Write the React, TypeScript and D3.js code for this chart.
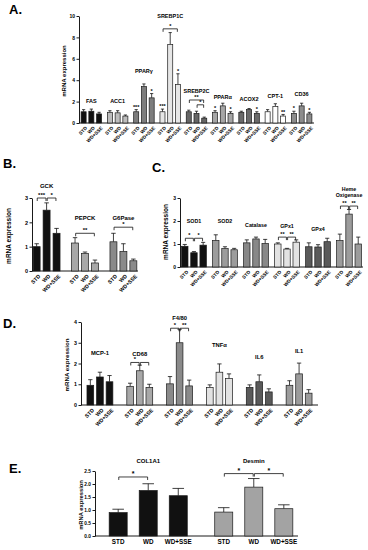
import React, { useEffect, useRef } from 'react';
import * as d3 from 'd3';

const W = 368, H = 550;
const FONT = '"Liberation Sans", Arial, sans-serif';
const DIETS = ['STD', 'WD', 'WD+SSE'];

// A. lipid metabolism
const genesA = ['FAS', 'ACC1', 'PPARγ', 'SREBP1C', 'SREBP2C', 'PPARα', 'ACOX2', 'CPT-1', 'CD36'];
const meanA = [[1.05, 1.1, 0.85], [1.0, 0.95, 0.65], [1.05, 3.4, 2.35], [1.05, 7.35, 3.6], [1.05, 0.9, 0.45], [1.0, 1.6, 0.9], [1.0, 1.25, 0.9], [1.05, 1.55, 0.65], [0.9, 1.6, 0.85]];
const errA = [[0.2, 0.2, 0.15], [0.15, 0.2, 0.1], [0.2, 0.25, 0.4], [0.25, 1.1, 1.0], [0.15, 0.2, 0.1], [0.15, 0.25, 0.15], [0.1, 0.1, 0.15], [0.2, 0.25, 0.15], [0.2, 0.25, 0.15]];
const starsA = [['', '', ''], ['', '', ''], ['***', '', '*'], ['***', '', '*'], ['', '', ''], ['*', '', '*'], ['', '', '*'], ['', '', '**'], ['*', '', '*']];
const labelAtA = [2.05, 2.05, 4.85, 10.0, 3.0, 2.45, 2.25, 2.5, 2.7];
const bracketsA = [
  { g: 3, a: 0, b: 2, t: '*', v: 8.8 },
  { g: 4, a: 0, b: 2, t: '**', v: 2.15 },
  { g: 4, a: 1, b: 2, t: '*', v: 1.7 },
];

// B. glucose metabolism
const genesB = ['GCK', 'PEPCK', 'G6Pase'];
const meanB = [[1.0, 2.5, 1.55], [1.15, 0.72, 0.33], [1.2, 0.8, 0.42]];
const errB = [[0.12, 0.3, 0.2], [0.22, 0.06, 0.12], [0.35, 0.32, 0.07]];
const starsB = [['', '', ''], ['', '', ''], ['', '', '']];
const labelAtB = [3.5, 2.2, 2.2];
const bracketsB = [
  { g: 0, a: 0, b: 1, t: '***', v: 3.0 },
  { g: 0, a: 1, b: 2, t: '*', v: 3.0 },
  { g: 1, a: 0, b: 2, t: '**', v: 1.55 },
  { g: 2, a: 0, b: 2, t: '*', v: 1.8 },
];

// C. antioxidant enzymes
const genesC = ['SOD1', 'SOD2', 'Catalase', 'GPx1', 'GPx4', 'Heme\nOxigenase'];
const meanC = [[0.9, 0.62, 0.95], [1.15, 0.8, 0.75], [1.05, 1.22, 1.02], [1.0, 0.78, 1.08], [0.88, 0.87, 1.1], [1.15, 2.3, 1.0]];
const errC = [[0.08, 0.05, 0.12], [0.25, 0.08, 0.06], [0.13, 0.08, 0.18], [0.05, 0.03, 0.1], [0.17, 0.1, 0.15], [0.28, 0.2, 0.3]];
const starsC = [['', '', ''], ['', '', ''], ['', '', ''], ['', '', ''], ['', '', ''], ['', '', '']];
const labelAtC = [2.0, 2.0, 1.83, 1.78, 1.65, 3.26];
const bracketsC = [
  { g: 0, a: 0, b: 1, t: '*', v: 1.25 },
  { g: 0, a: 1, b: 2, t: '*', v: 1.25 },
  { g: 3, a: 0, b: 1, t: '**', v: 1.3 },
  { g: 3, a: 1, b: 2, t: '**', v: 1.3 },
  { g: 5, a: 0, b: 1, t: '**', v: 2.65 },
  { g: 5, a: 1, b: 2, t: '**', v: 2.65 },
];

// D. inflammation
const genesD = ['MCP-1', 'CD68', 'F4/80', 'TNFα', 'IL6', 'IL1'];
const meanD = [[0.95, 1.35, 1.12], [0.9, 1.65, 0.85], [1.02, 3.0, 0.92], [0.85, 1.58, 1.27], [0.85, 1.12, 0.63], [0.95, 1.5, 0.57]];
const errD = [[0.27, 0.23, 0.3], [0.15, 0.27, 0.15], [0.35, 0.65, 0.28], [0.12, 0.4, 0.23], [0.12, 0.33, 0.15], [0.22, 0.52, 0.17]];
const starsD = [['', '', ''], ['', '', ''], ['', '', ''], ['', '', ''], ['', '', ''], ['', '', '']];
const labelAtD = [2.5, 2.45, 4.2, 2.9, 2.3, 2.6];
const bracketsD = [
  { g: 1, a: 0, b: 1, t: '*', v: 2.05 },
  { g: 1, a: 1, b: 2, t: '', v: 2.05 },
  { g: 2, a: 0, b: 1, t: '*', v: 3.7 },
  { g: 2, a: 1, b: 2, t: '**', v: 3.7 },
];

// E. fibrosis
const genesE = ['COL1A1', 'Desmin'];
const meanE = [[0.9, 1.75, 1.55], [0.92, 1.88, 1.05]];
const errE = [[0.13, 0.26, 0.28], [0.17, 0.33, 0.15]];
const starsE = [['', '', ''], ['', '', '']];
const labelAtE = [2.88, 2.88];
const bracketsE = [
  { g: 0, a: 0, b: 1, t: '*', v: 2.27 },
  { g: 1, a: 0, b: 1, t: '*', v: 2.4 },
  { g: 1, a: 1, b: 2, t: '*', v: 2.4 },
];

const fillA = ['#111', '#bdbdbd', '#7d7d7d', '#e6e6e6', '#656565', '#a6a6a6', '#6a6a6a', '#ffffff', '#8c8c8c'];
const fillB = ['#111', '#a8a8a8', '#8a8a8a'];
const fillC = ['#111', '#9c9c9c', '#888', '#e2e2e2', '#5a5a5a', '#9c9c9c'];
const fillD = ['#111', '#a8a8a8', '#8a8a8a', '#e2e2e2', '#5a5a5a', '#9c9c9c'];
const fillE = ['#111', '#a3a3a3'];

function drawPanel(svg: any, p: any) {
  const y = d3.scaleLinear().domain(p.yDomain).range(p.yRange);
  const gx = d3.scaleBand<number>().domain(d3.range(p.genes.length)).range(p.band)
    .paddingInner(p.padIn).paddingOuter(p.padOut);
  const bx = d3.scaleBand<number>().domain([0, 1, 2]).range([0, gx.bandwidth()]).paddingInner(p.barPad);
  const bw = bx.bandwidth();
  const cx = (i: number, j: number) => (gx(i) as number) + (bx(j) as number) + bw / 2;
  const y0 = y(0);

  const g = svg.append('g').attr('font-family', FONT).attr('font-weight', 'bold').attr('fill', '#000');

  // panel letter
  g.append('text').attr('x', p.letter[1]).attr('y', p.letter[2])
    .attr('font-size', 13).text(p.letter[0]);

  // y axis
  const ax = g.append('g').attr('transform', `translate(${p.axisX[0]},0)`)
    .call(d3.axisLeft(y).tickValues(p.yTicks).tickSize(2.5).tickSizeOuter(0).tickPadding(1.5).tickFormat(p.yFmt));
  ax.attr('font-family', FONT).attr('font-size', p.tickFont).attr('font-weight', 'bold');
  ax.selectAll('path, line').attr('stroke', '#000').attr('stroke-width', 0.9);
  ax.selectAll('text').attr('fill', '#000');

  g.append('text')
    .attr('transform', `translate(${p.ylab[0]},${p.ylab[1]}) rotate(-90)`)
    .attr('text-anchor', 'middle').attr('font-size', p.ylabFont).text('mRNA expression');

  // x baseline
  g.append('line').attr('x1', p.axisX[0]).attr('x2', p.axisX[1]).attr('y1', y0).attr('y2', y0)
    .attr('stroke', '#000').attr('stroke-width', 0.9);

  p.genes.forEach((gene: string, i: number) => {
    p.means[i].forEach((m: number, j: number) => {
      const e = p.errs[i][j];
      const c = cx(i, j);
      g.append('line').attr('x1', c).attr('x2', c).attr('y1', y(m)).attr('y2', y(m + e))
        .attr('stroke', '#111').attr('stroke-width', 0.8);
      g.append('line').attr('x1', c - bw * 0.32).attr('x2', c + bw * 0.32).attr('y1', y(m + e)).attr('y2', y(m + e))
        .attr('stroke', '#111').attr('stroke-width', 0.8);
      g.append('rect').attr('x', c - bw / 2).attr('y', y(m)).attr('width', bw).attr('height', y0 - y(m))
        .attr('fill', p.fills[i]).attr('stroke', '#1a1a1a').attr('stroke-width', 0.7);
      if (p.stars[i][j]) {
        g.append('text').attr('x', c).attr('y', y(m + e) - 0.8).attr('text-anchor', 'middle')
          .attr('font-size', p.starFont).text(p.stars[i][j]);
      }
      // diet labels
      if (p.rotate) {
        g.append('text').attr('transform', `translate(${c + 1.5},${y0 + 3}) rotate(-45)`)
          .attr('text-anchor', 'end').attr('dy', '0.7em').attr('font-size', p.xFont).text(DIETS[j]);
      } else {
        g.append('text').attr('x', c).attr('y', y0 + 3).attr('dy', '0.8em').attr('text-anchor', 'middle')
          .attr('font-size', p.xFont).text(DIETS[j]);
      }
    });
    const lines = gene.split('\n');
    const t = g.append('text').attr('x', (gx(i) as number) + gx.bandwidth() / 2).attr('y', y(p.labelAt[i]))
      .attr('text-anchor', 'middle').attr('font-size', p.geneFont);
    lines.forEach((ln, k) => {
      t.append('tspan').attr('x', (gx(i) as number) + gx.bandwidth() / 2)
        .attr('dy', k === 0 ? `${0.35 - (lines.length - 1) * 0.6}em` : '1.2em').text(ln);
    });
  });

  p.brackets.forEach((b: any) => {
    const x1 = cx(b.g, b.a) + 0.6, x2 = cx(b.g, b.b) - 0.6, yy = y(b.v);
    g.append('path').attr('d', `M${x1},${yy + 3}V${yy}H${x2}V${yy + 3}`)
      .attr('fill', 'none').attr('stroke', '#111').attr('stroke-width', 0.8);
    if (b.t) {
      g.append('text').attr('x', (x1 + x2) / 2).attr('y', yy - 1).attr('text-anchor', 'middle')
        .attr('font-size', p.starFont).text(b.t);
    }
  });
}

export default function App() {
  const ref = useRef<SVGSVGElement>(null);

  useEffect(() => {
    const svg = d3.select(ref.current);
    svg.selectAll('*').remove();
    const num = (d: any) => `${d}`;

    drawPanel(svg, {
      letter: ['A.', 9, 14], genes: genesA, means: meanA, errs: errA, stars: starsA, labelAt: labelAtA,
      brackets: bracketsA, fills: fillA, yDomain: [0, 10], yRange: [123, 16], yTicks: [0, 2, 4, 6, 8, 10], yFmt: num,
      axisX: [79, 314], band: [79, 314], padIn: 0.22, padOut: 0.08, barPad: 0.35,
      ylab: [66, 71], ylabFont: 6, tickFont: 5, geneFont: 5.5, starFont: 5.5, xFont: 4.8, rotate: true,
    });
    drawPanel(svg, {
      letter: ['B.', 3, 168], genes: genesB, means: meanB, errs: errB, stars: starsB, labelAt: labelAtB,
      brackets: bracketsB, fills: fillB, yDomain: [0, 3], yRange: [271, 198], yTicks: [0, 1, 2, 3], yFmt: num,
      axisX: [32, 138], band: [32, 138], padIn: 0.3, padOut: 0.03, barPad: 0.3,
      ylab: [11, 236], ylabFont: 6.5, tickFont: 5.5, geneFont: 6, starFont: 6, xFont: 5.3, rotate: true,
    });
    drawPanel(svg, {
      letter: ['C.', 152, 172], genes: genesC, means: meanC, errs: errC, stars: starsC, labelAt: labelAtC,
      brackets: bracketsC, fills: fillC, yDomain: [0, 3], yRange: [267, 198], yTicks: [0, 1, 2, 3], yFmt: num,
      axisX: [180, 363], band: [180, 363], padIn: 0.2, padOut: 0.05, barPad: 0.3,
      ylab: [168, 232], ylabFont: 6.5, tickFont: 5, geneFont: 5.3, starFont: 5.5, xFont: 4.8, rotate: true,
    });
    drawPanel(svg, {
      letter: ['D.', 3, 328], genes: genesD, means: meanD, errs: errD, stars: starsD, labelAt: labelAtD,
      brackets: bracketsD, fills: fillD, yDomain: [0, 4], yRange: [405, 322], yTicks: [0, 1, 2, 3, 4], yFmt: num,
      axisX: [81, 318], band: [81, 318], padIn: 0.35, padOut: 0.15, barPad: 0.3,
      ylab: [69, 365], ylabFont: 6.2, tickFont: 5.3, geneFont: 5.8, starFont: 5.8, xFont: 5.3, rotate: true,
    });
    drawPanel(svg, {
      letter: ['E.', 9, 473], genes: genesE, means: meanE, errs: errE, stars: starsE, labelAt: labelAtE,
      brackets: bracketsE, fills: fillE, yDomain: [0, 2.5], yRange: [536, 471], yTicks: [0, 0.5, 1, 1.5, 2, 2.5],
      yFmt: d3.format('.1f'),
      axisX: [95, 298], band: [106, 296], padIn: 0.26, padOut: 0.03, barPad: 0.4,
      ylab: [83, 505], ylabFont: 5.8, tickFont: 4.8, geneFont: 6, starFont: 7, xFont: 6.3, rotate: false,
    });
  }, []);

  return (
    <svg ref={ref} width={W} height={H}
      style={{ position: 'absolute', left: 0, top: 0, background: '#fff' }} />
  );
}
